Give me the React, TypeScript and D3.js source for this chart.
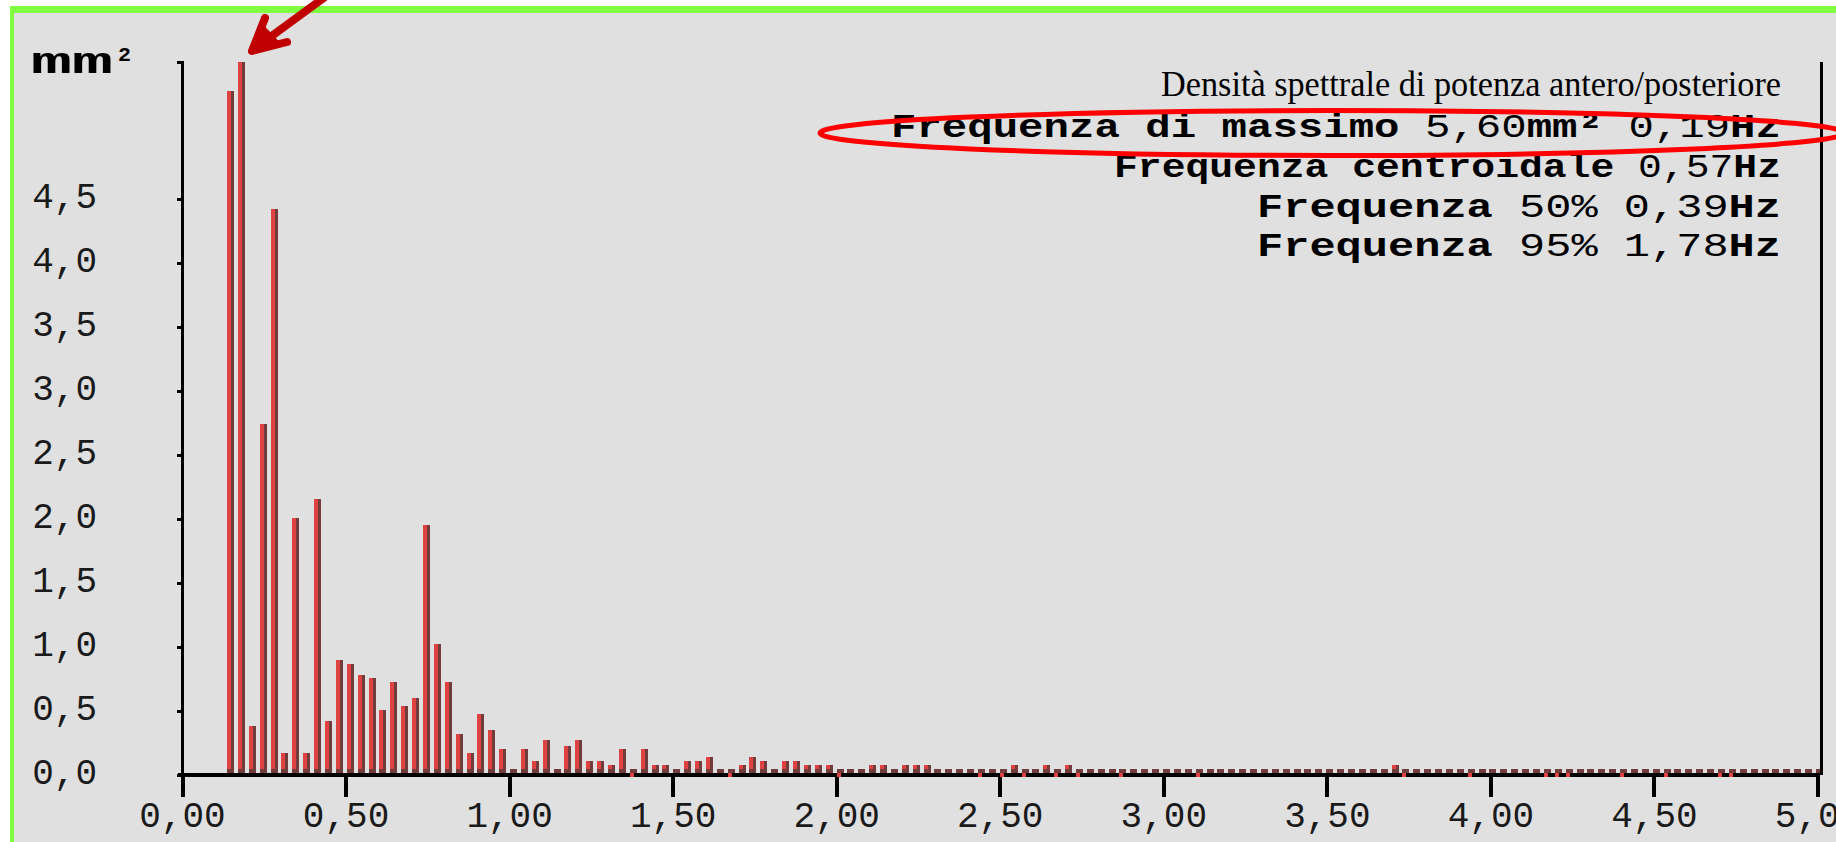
import React from "react";
import * as d3 from "d3";

// ---- data ----
const BIN_START_HZ = 0.147;
const BIN_STEP_HZ = 0.03327;

// power spectral density per frequency bin (mm²)
const psdValues: number[] = [
  5.34, 5.6, 0.38, 2.74, 4.42, 0.17, 2.01, 0.17, 2.16, 0.42,
  0.9, 0.87, 0.78, 0.76, 0.51, 0.73, 0.54, 0.6, 1.95, 1.02,
  0.73, 0.32, 0.17, 0.48, 0.35, 0.2, 0.03, 0.2, 0.11, 0.27,
  0.03, 0.23, 0.27, 0.11, 0.11, 0.08, 0.2, 0, 0.2, 0.08,
  0.08, 0.03, 0.11, 0.11, 0.14, 0.03, 0, 0.08, 0.14, 0.11,
  0.03, 0.11, 0.11, 0.08, 0.08, 0.08, 0, 0.03, 0.03, 0.08,
  0.08, 0.03, 0.08, 0.08, 0.08, 0.03, 0.03, 0.03, 0.03, 0,
  0.03, 0, 0.08, 0, 0.03, 0.08, 0, 0.08, 0, 0.03,
  0.03, 0.03, 0, 0.03, 0.03, 0.03, 0.03, 0.03, 0.03, 0,
  0.03, 0.03, 0.03, 0.03, 0.03, 0.03, 0.03, 0.03, 0.03, 0.03,
  0.03, 0.03, 0.03, 0.03, 0.03, 0.03, 0.03, 0.08, 0, 0.03,
  0.03, 0.03, 0.03, 0.03, 0, 0.03, 0.03, 0.03, 0.03, 0.03,
  0.03, 0, 0, 0, 0.03, 0.03, 0.03, 0.03, 0, 0.03,
  0.03, 0.03, 0, 0.03, 0.03, 0.03, 0.03, 0, 0, 0.03,
  0.03, 0.03, 0.03, 0.03, 0.03, 0.03, 0.03,
];

const xTickValues = [0, 0.5, 1, 1.5, 2, 2.5, 3, 3.5, 4, 4.5, 5];
const xTickLabels = ["0,00", "0,50", "1,00", "1,50", "2,00", "2,50", "3,00", "3,50", "4,00", "4,50", "5,00"];
const yTickValues = [0, 0.5, 1, 1.5, 2, 2.5, 3, 3.5, 4, 4.5];
const yTickLabels = ["0,0", "0,5", "1,0", "1,5", "2,0", "2,5", "3,0", "3,5", "4,0", "4,5"];

const titleText = "Densità spettrale di potenza antero/posteriore";
const statLines: { parts: { t: string; bold: boolean }[] }[] = [
  { parts: [ { t: "Frequenza di massimo ", bold: true }, { t: "5,60", bold: false }, { t: "mm² ", bold: true }, { t: "0,19", bold: false }, { t: "Hz", bold: true } ] },
  { parts: [ { t: "Frequenza centroidale ", bold: true }, { t: "0,57", bold: false }, { t: "Hz", bold: true } ] },
  { parts: [ { t: "Frequenza ", bold: true }, { t: "50% 0,39", bold: false }, { t: "Hz", bold: true } ] },
  { parts: [ { t: "Frequenza ", bold: true }, { t: "95% 1,78", bold: false }, { t: "Hz", bold: true } ] },
];
const unitLabel = "mm";
const unitSup = "2";

// ---- style ----
const C_BG = "#e0e0e0";
const C_GREEN = "#80ff40";
const C_LIGHT = "#e04242";
const C_DARK = "#733c3c";
const MONO = "'Liberation Mono', 'DejaVu Sans Mono', monospace";
const SERIF = "'Liberation Serif', 'DejaVu Serif', serif";

export default function App() {
  const W = 1836;
  const H = 842;
  const x = d3.scaleLinear().domain([0, 5]).range([182.5, 1818]);
  const y = d3.scaleLinear().domain([0, 5.57]).range([775, 62]).clamp(true);
  const y0 = y(0);
  const yTop = y(5.57);
  const BAR_W = 7;
  const FRONT_W = 4;
  const BASE = 6;

  const bins = psdValues.map((v, i) => ({ f: BIN_START_HZ + i * BIN_STEP_HZ, v }));

  const statBaselines = [137, 177, 217, 256];
  const statLengths = [890, 667, 524, 524];
  const TEXT_RIGHT = 1781;

  return (
    <svg
      width={W}
      height={H}
      style={{ position: "absolute", left: 0, top: 0, display: "block", background: "#ffffff" }}
    >
      {/* frame */}
      <rect x={0} y={0} width={W} height={H} fill="#ffffff" />
      <rect x={14} y={13} width={W - 14} height={H - 13} fill={C_BG} />
      <rect x={10} y={6} width={W - 10} height={7} fill={C_GREEN} />
      <rect x={10} y={6} width={4} height={H - 6} fill={C_GREEN} />

      {/* bars */}
      <g shapeRendering="crispEdges">
        {bins.map((b, i) => {
          const left = Math.round(x(b.f) - BAR_W / 2);
          const top = Math.round(y(b.v));
          const els = [
            <rect key={"b" + i} x={left} y={y0 - BASE} width={BAR_W} height={BASE} fill={C_DARK} />,
          ];
          if (top < y0 - BASE) {
            els.push(<rect key={"s" + i} x={left} y={top} width={BAR_W} height={y0 - top} fill={C_DARK} />);
            els.push(<rect key={"f" + i} x={left} y={top} width={FRONT_W} height={y0 - BASE - top} fill={C_LIGHT} />);
          }
          return <g key={i}>{els}</g>;
        })}
      </g>

      {/* axes */}
      <g shapeRendering="crispEdges" fill="#000">
        <rect x={181} y={yTop} width={3} height={y0 + 2 - yTop} />
        <rect x={177} y={yTop - 1} width={7} height={3} />
        {yTickValues.map((v, i) => (
          <rect key={"yt" + i} x={177} y={Math.round(y(v)) - 1} width={7} height={3} />
        ))}
        <rect x={178} y={y0 - 2} width={1820 - 178} height={4} />
        {xTickValues.map((v, i) => (
          <rect key={"xt" + i} x={Math.round(x(v)) - 2} y={y0 + 2} width={4} height={20} />
        ))}
        <rect x={1820} y={yTop} width={3} height={y0 - yTop} />
      </g>

      {/* zero-value markers over the axis */}
      <g shapeRendering="crispEdges">
        {bins.map((b, i) =>
          b.v === 0 ? (
            <rect key={"z" + i} x={Math.round(x(b.f) - BAR_W / 2)} y={y0 - 2} width={FRONT_W} height={4} fill={C_LIGHT} />
          ) : null
        )}
      </g>

      {/* tick labels */}
      <g fontFamily={MONO} fontSize={36} fill="#1a1a1a">
        {yTickValues.map((v, i) => (
          <text key={"yl" + i} x={97} y={y(v) + 9} textAnchor="end">
            {yTickLabels[i]}
          </text>
        ))}
        {xTickValues.map((v, i) => (
          <text key={"xl" + i} x={x(v)} y={827} textAnchor="middle">
            {xTickLabels[i]}
          </text>
        ))}
      </g>

      {/* unit */}
      <text x={31} y={73} fontFamily={MONO} fontWeight="bold" fontSize={36} textLength={82} lengthAdjust="spacingAndGlyphs">
        {unitLabel}
      </text>
      <text x={118} y={61} fontFamily={MONO} fontWeight="bold" fontSize={20} textLength={13} lengthAdjust="spacingAndGlyphs">
        {unitSup}
      </text>

      {/* title + stats */}
      <text
        x={TEXT_RIGHT}
        y={96}
        textAnchor="end"
        fontFamily={SERIF}
        fontSize={35}
        textLength={620}
        lengthAdjust="spacingAndGlyphs"
      >
        {titleText}
      </text>
      {statLines.map((line, i) => (
        <text
          key={"st" + i}
          x={TEXT_RIGHT}
          y={statBaselines[i]}
          textAnchor="end"
          fontFamily={MONO}
          fontSize={34}
          textLength={statLengths[i]}
          lengthAdjust="spacingAndGlyphs"
        >
          {line.parts.map((p, j) => (
            <tspan key={j} fontWeight={p.bold ? "bold" : "normal"}>
              {p.t}
            </tspan>
          ))}
        </text>
      ))}

      {/* annotation ellipse */}
      <ellipse cx={1332} cy={133} rx={512} ry={22.5} fill="none" stroke="#ff0000" strokeWidth={5} />

      {/* annotation arrow */}
      <g stroke="#c00000" fill="#c00000" strokeLinecap="round" strokeLinejoin="round">
        <line x1={258} y1={46} x2={340} y2={-14} strokeWidth={8} />
        <polyline points="265,18 252,51 287,42" fill="none" strokeWidth={8} />
        <polygon points="252,51 263,26 280,44" strokeWidth={2} />
      </g>
    </svg>
  );
}
